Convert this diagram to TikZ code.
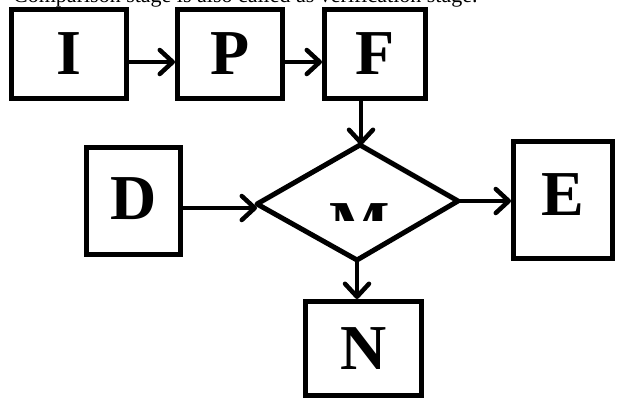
\documentclass[tikz,border=0pt]{standalone}
\usepackage{fontspec}
\setmainfont{Liberation Serif}
\usetikzlibrary{arrows.meta}
\begin{document}
\begin{tikzpicture}[x=1pt,y=-1pt,
  box/.style={draw,line width=5pt,inner sep=0pt,font=\bfseries\fontsize{64}{64}\selectfont},
  conn/.style={line width=4.5pt,line cap=round,-{Straight Barb[length=13pt,width=24pt,line width=4.5pt,round]}}]
\useasboundingbox (0,0) rectangle (628,400);
\node[anchor=base west,inner sep=0pt,font=\fontsize{22}{22}\selectfont] (cap) at (13,2.5) {Comparison stage is also called as verification stage.};
\node[box,minimum width=115pt,minimum height=89pt] (I) at (69,54) {\raisebox{-4pt}{I}};
\node[box,minimum width=105pt,minimum height=89pt] (P) at (230,54) {\raisebox{-4pt}{P}};
\node[box,minimum width=101pt,minimum height=89pt] (F) at (375,54) {\raisebox{-4pt}{F}};
\node[box,minimum width=94pt,minimum height=107pt] (D) at (133.5,201) {\raisebox{4pt}{D}};
\node[box,minimum width=99pt,minimum height=117pt] (E) at (563,200) {\raisebox{10pt}{E}};
\node[box,minimum width=116pt,minimum height=94pt] (N) at (363.5,348.5) {N};
\coordinate (mtop) at (360,145);
\coordinate (mleft) at (257,204);
\coordinate (mright) at (458,201);
\coordinate (mbot) at (357,260);
\draw[line width=5pt,line join=round] (mtop) -- (mright) -- (mbot) -- (mleft) -- cycle;
\begin{scope}
\clip (300,150) rectangle (420,220);
\node[inner sep=0pt,anchor=north,font=\bfseries\fontsize{64}{64}\selectfont] (M) at (360,203) {\raisebox{0pt}[\height][0pt]{M}};
\end{scope}
\draw[conn] ([yshift=-8pt]I.east) -- ([yshift=-8pt]P.west);
\draw[conn] ([yshift=-8pt]P.east) -- ([yshift=-8pt]F.west);
\draw[conn] (F.south -| 361,0) -- (361,145);
\draw[conn] ([yshift=-7pt]D.east) -- ([yshift=-7pt]D.east -| mleft);
\draw[conn] (mright) -- (E.west |- mright);
\draw[conn] (mbot) -- (mbot |- N.north);
\end{tikzpicture}
\end{document}
